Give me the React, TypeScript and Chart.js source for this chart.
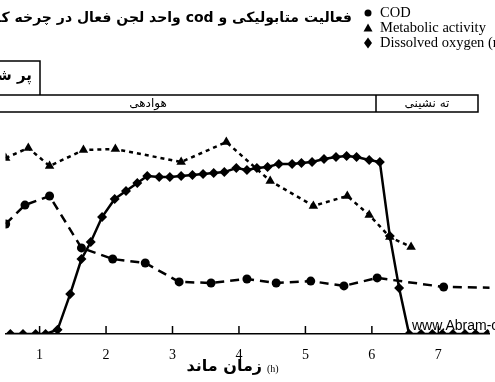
import React, { useEffect, useRef } from "react";
import { Chart, registerables } from "chart.js";

Chart.register(...registerables);

const codHours = [0.49, 0.78, 1.15, 1.63, 2.1, 2.59, 3.1, 3.58, 4.12, 4.56, 5.08, 5.58, 6.08, 7.08, 7.95];
const codValues = [5.24, 6.14, 6.57, 4.1, 3.57, 3.38, 2.48, 2.43, 2.62, 2.43, 2.52, 2.29, 2.67, 2.24, 2.2];

const maHours = [0.49, 0.83, 1.15, 1.66, 2.14, 3.13, 3.81, 4.47, 5.12, 5.63, 5.96, 6.27, 6.59];
const maValues = [8.38, 8.86, 8.0, 8.76, 8.81, 8.19, 9.14, 7.29, 6.1, 6.57, 5.67, 4.62, 4.14];

const doHours = [0.56, 0.75, 0.94, 1.09, 1.27, 1.46, 1.63, 1.77, 1.94, 2.13, 2.3, 2.47, 2.62, 2.8, 2.96, 3.13, 3.3, 3.46, 3.62, 3.78, 3.96, 4.12, 4.27, 4.43, 4.6, 4.8, 4.94, 5.1, 5.28, 5.46, 5.62, 5.77, 5.96, 6.12, 6.27, 6.41, 6.56, 6.74, 6.91, 7.06, 7.22, 7.4, 7.56, 7.74];
const doValues = [0, 0, 0, 0, 0.2, 1.9, 3.57, 4.38, 5.57, 6.43, 6.81, 7.19, 7.52, 7.48, 7.48, 7.52, 7.57, 7.62, 7.67, 7.71, 7.9, 7.81, 7.9, 7.95, 8.1, 8.1, 8.14, 8.19, 8.33, 8.43, 8.48, 8.43, 8.29, 8.19, 4.67, 2.19, 0, 0, 0, 0, 0, 0, 0, 0];

const xTicks = [1, 2, 3, 4, 5, 6, 7];
const legendLabels = ["COD", "Metabolic activity", "Dissolved oxygen (mg/l)"];
const titleText = "فعالیت متابولیکی و cod واحد لجن فعال در چرخه کاری";
const fillLabel = "پر شدن";
const phaseLabels = ["هوادهی", "ته نشینی"];
const xTitle = "زمان ماند";
const xUnit = "(h)";
const watermark = "www.Abram-co.com";

const toPoints = (xs: number[], ys: number[]) => xs.map((x, i) => ({ x, y: ys[i] }));

const decor = {
  id: "decor",
  beforeDraw(chart: any) {
    const ctx = chart.ctx;
    ctx.save();
    ctx.fillStyle = "#fff";
    ctx.fillRect(0, 0, chart.width, chart.height);
    ctx.restore();
  },
  afterDraw(chart: any) {
    const ctx = chart.ctx;
    ctx.save();
    ctx.fillStyle = "#000";
    ctx.strokeStyle = "#000";

    // title
    ctx.font = 'bold 14px "DejaVu Sans"';
    ctx.direction = "rtl";
    ctx.textAlign = "right";
    ctx.textBaseline = "middle";
    ctx.fillText(titleText, 352, 18);

    // box
    ctx.lineWidth = 1.5;
    ctx.beginPath();
    ctx.moveTo(0, 61);
    ctx.lineTo(40, 61);
    ctx.lineTo(40, 95);
    ctx.stroke();
    ctx.font = 'bold 15px "DejaVu Sans"';
    ctx.fillText(fillLabel, 32, 76);

    // phase bar
    ctx.beginPath();
    ctx.moveTo(0, 95);
    ctx.lineTo(478, 95);
    ctx.lineTo(478, 112);
    ctx.lineTo(0, 112);
    ctx.moveTo(376, 95);
    ctx.lineTo(376, 112);
    ctx.stroke();
    ctx.font = '12px "DejaVu Sans"';
    ctx.textAlign = "center";
    ctx.fillText(phaseLabels[0], 148, 104);
    ctx.fillText(phaseLabels[1], 427, 104);

    // x title
    ctx.font = 'bold 16px "DejaVu Sans"';
    ctx.textAlign = "right";
    ctx.fillText(xTitle, 262, 367);
    ctx.direction = "ltr";
    ctx.textAlign = "left";
    ctx.font = '10px "Liberation Serif"';
    ctx.fillText(xUnit, 267, 369);

    // legend
    ctx.font = '14.5px "Liberation Serif"';
    const rows = [13, 28, 43];
    legendLabels.forEach((t, i) => ctx.fillText(t, 380, rows[i]));
    const mx = 368;
    ctx.beginPath();
    ctx.arc(mx, rows[0], 3.5, 0, Math.PI * 2);
    ctx.fill();
    ctx.beginPath();
    ctx.moveTo(mx, rows[1] - 4.5);
    ctx.lineTo(mx + 4.5, rows[1] + 3.5);
    ctx.lineTo(mx - 4.5, rows[1] + 3.5);
    ctx.closePath();
    ctx.fill();
    ctx.beginPath();
    ctx.moveTo(mx, rows[2] - 5.5);
    ctx.lineTo(mx + 4, rows[2]);
    ctx.lineTo(mx, rows[2] + 5.5);
    ctx.lineTo(mx - 4, rows[2]);
    ctx.closePath();
    ctx.fill();

    // watermark
    ctx.font = '14px "Liberation Sans"';
    ctx.fillText(watermark, 412, 326);

    // inward ticks
    const xs = chart.scales.x;
    ctx.lineWidth = 1.5;
    xTicks.forEach((v) => {
      const px = xs.getPixelForValue(v);
      ctx.beginPath();
      ctx.moveTo(px, xs.top);
      ctx.lineTo(px, xs.top - 8);
      ctx.stroke();
    });
    ctx.restore();
  },
};

export default function App() {
  const ref = useRef<HTMLCanvasElement | null>(null);
  useEffect(() => {
    document.body.style.margin = "0";
    const canvas = ref.current!;
    const chart = new Chart(canvas, {
      type: "line",
      data: {
        datasets: [
          {
            label: legendLabels[0],
            data: toPoints(codHours, codValues),
            borderColor: "#000",
            backgroundColor: "#000",
            borderWidth: 2.5,
            borderDash: [9, 6],
            pointStyle: "circle",
            pointRadius: 4.5,
            pointBorderWidth: 0,
            tension: 0,
          },
          {
            label: legendLabels[1],
            data: toPoints(maHours, maValues),
            borderColor: "#000",
            backgroundColor: "#000",
            borderWidth: 2.5,
            borderDash: [4, 4],
            pointStyle: "triangle",
            pointRadius: 5.5,
            pointBorderWidth: 0,
            tension: 0,
          },
          {
            label: legendLabels[2],
            data: toPoints(doHours, doValues),
            borderColor: "#000",
            backgroundColor: "#000",
            borderWidth: 2.5,
            pointStyle: "rectRot",
            pointRadius: 5,
            pointBorderWidth: 0,
            tension: 0,
          },
        ],
      },
      options: {
        responsive: false,
        animation: false,
        devicePixelRatio: 1,
        layout: { padding: { top: 124, left: 0, right: 0, bottom: 0 } },
        plugins: { legend: { display: false }, title: { display: false }, tooltip: { enabled: false } },
        scales: {
          x: {
            type: "linear",
            min: 0.487,
            max: 7.77,
            afterBuildTicks: (s: any) => {
              s.ticks = xTicks.map((v) => ({ value: v }));
            },
            afterFit: (s: any) => {
              s.height = 48;
            },
            grid: { display: false },
            border: { display: true, color: "#000", width: 1.5 },
            ticks: {
              autoSkip: false,
              maxRotation: 0,
              padding: 5,
              color: "#000",
              font: { family: "Liberation Serif", size: 14 },
            },
          },
          y: { type: "linear", min: 0, max: 10, display: false },
        },
      },
      plugins: [decor],
    });
    return () => chart.destroy();
  }, []);
  return <canvas ref={ref} width={495} height={382} style={{ display: "block" }} />;
}
